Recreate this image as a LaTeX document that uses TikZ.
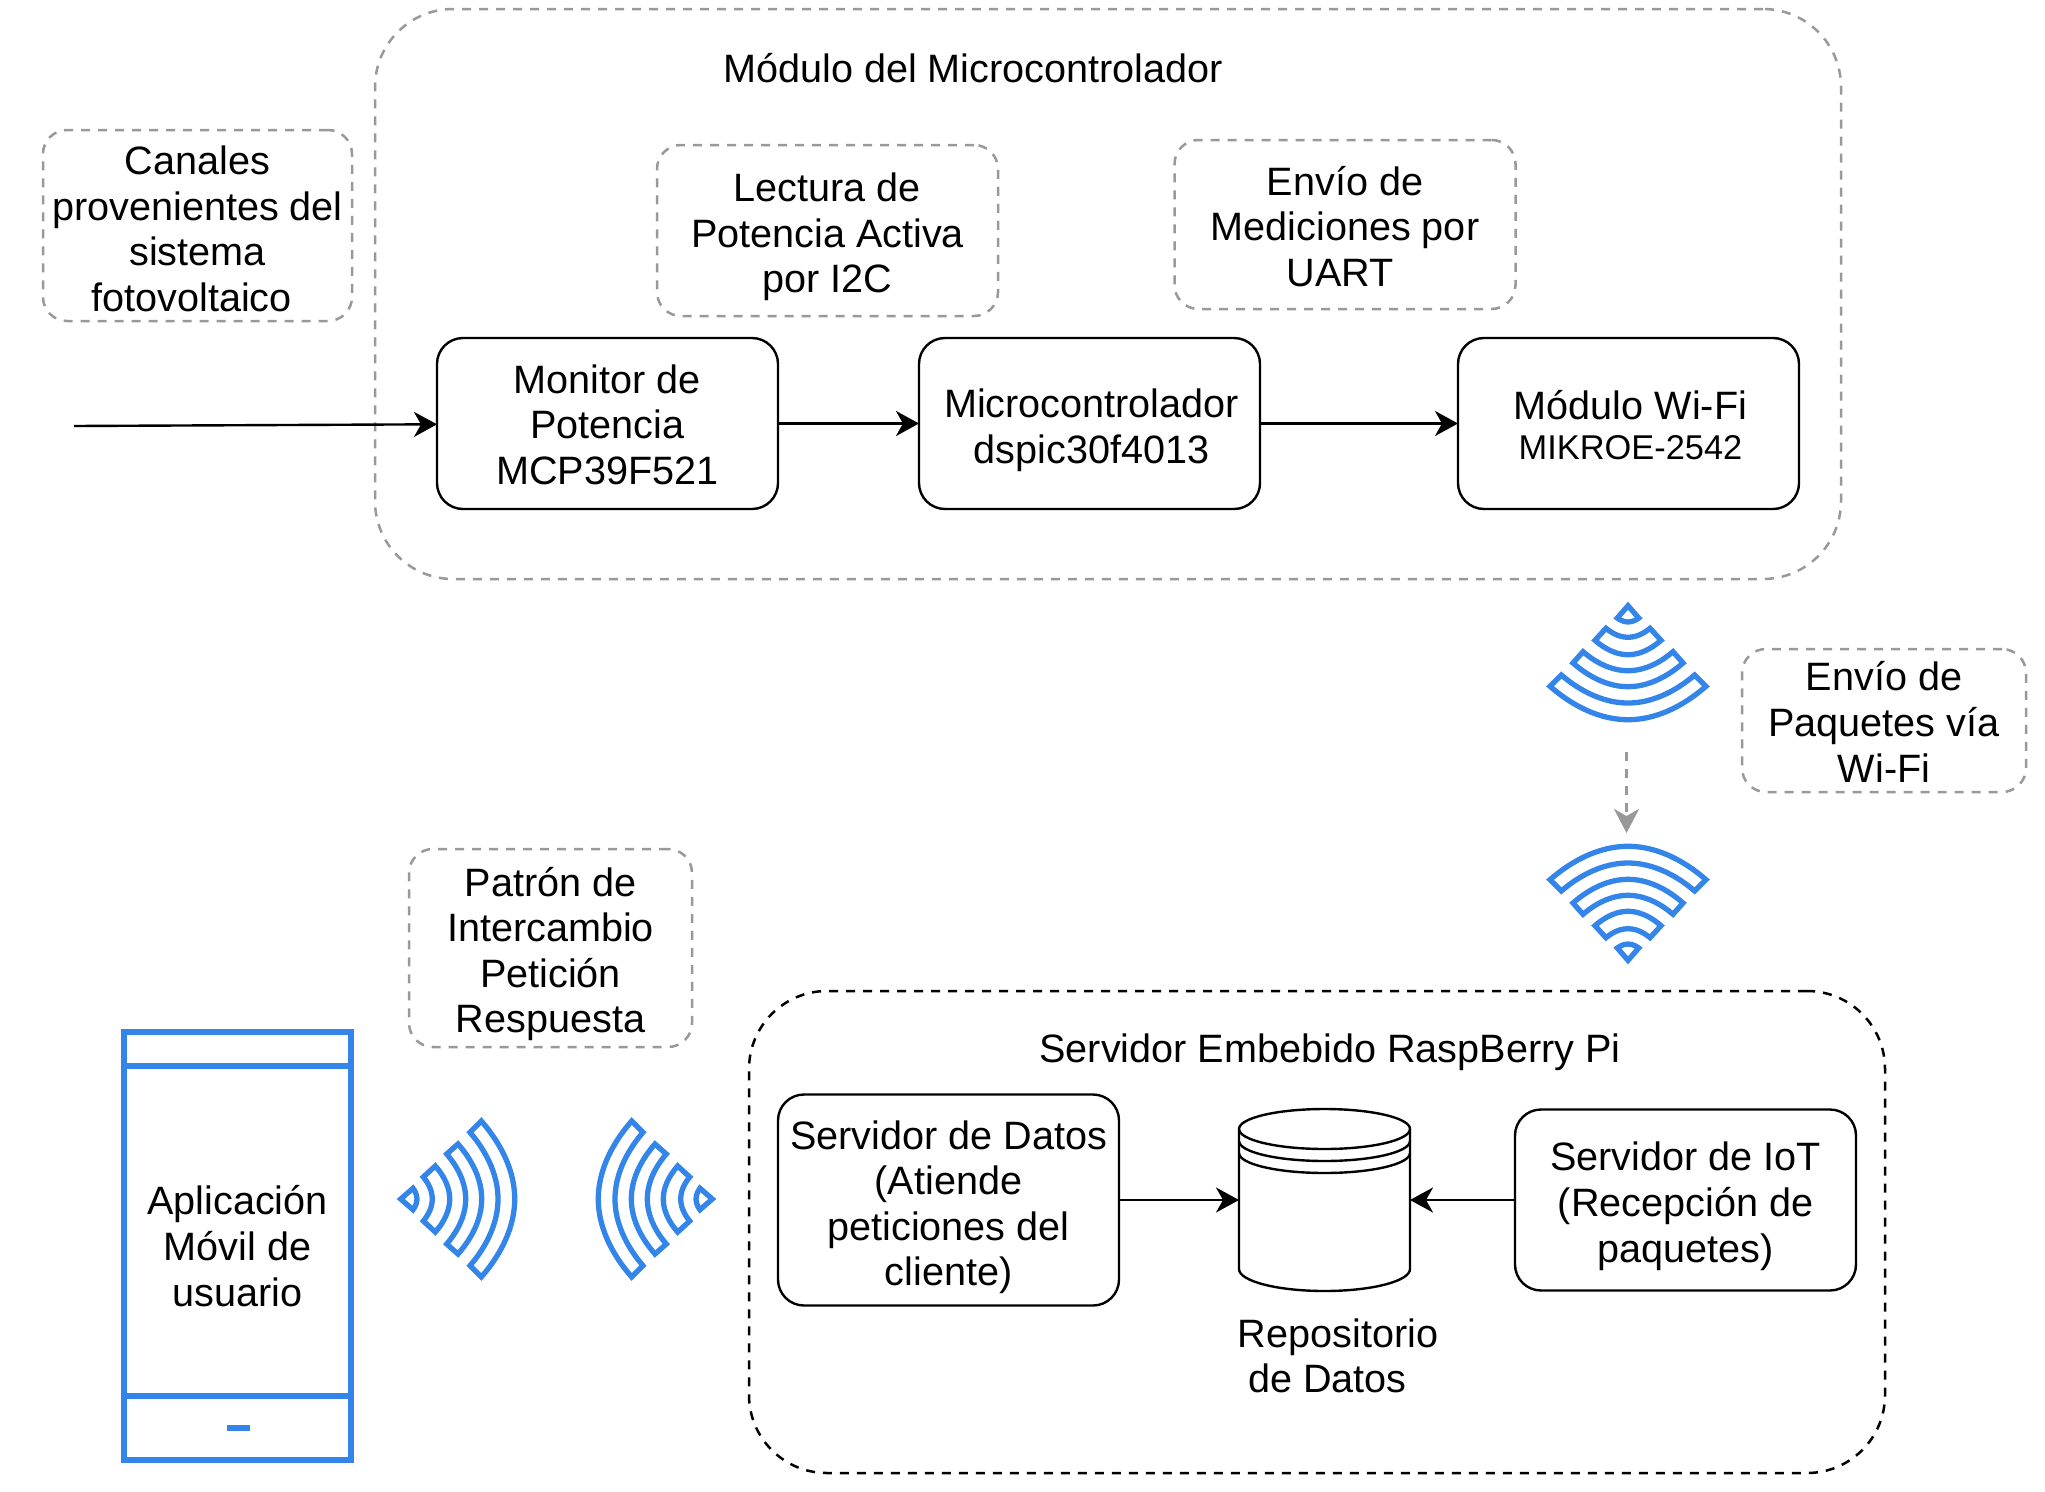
\documentclass[tikz,border=0pt]{standalone}
\usepackage{fontspec}
\setmainfont{Liberation Sans}
\usetikzlibrary{positioning,arrows.meta}
\definecolor{wifiblue}{HTML}{3385EA}
\definecolor{notegray}{HTML}{999999}
\newcommand{\topline}[1]{\rule{0pt}{#1pt}}

\begin{document}
\begin{tikzpicture}[x=1pt,y=-1pt,outer sep=0pt,
  font=\fontsize{39.6}{45.6}\selectfont,
  main node/.style={draw,line width=2.4pt,rounded corners=26pt,align=center,minimum width=341pt,minimum height=171pt},
  note node/.style={draw=notegray,line width=2.5pt,dash pattern=on 9pt off 8pt,rounded corners=24pt,align=center},
  area node/.style={line width=2.5pt,dash pattern=on 9pt off 8pt,rounded corners=78pt},
  text node/.style={align=center,inner sep=0pt},
  flow/.style={line width=2.4pt,-{Stealth[length=23pt,width=25pt,inset=7pt]}},
  wifi fan/.pic={
    \draw[wifiblue,line width=5.3pt] (0,3.7) -- (-10.7,16) parabola bend (0,20) (10.7,16) -- cycle;
    \foreach \wi/\ci/\bi/\wo/\co/\bo in {22/26.3/35.3/33/38.3/52.7,45/49.7/68.7/55/61/84.7,66.7/73/101/78/84.3/117.7}
      \draw[wifiblue,line width=5.3pt] (-\wi,\ci) parabola bend (0,\bi) (\wi,\ci) -- (\wo,\co) parabola bend (0,\bo) (-\wo,\co) -- cycle;
  }]
\useasboundingbox (0,0) rectangle (2045,1491);

% modulo superior
\node[area node,draw=notegray,minimum width=1466pt,minimum height=570pt] (modulo) at (1108,294) {};
\node[text node] (modulotxt) at (973,68) {Módulo del Microcontrolador};
\node[main node] (monitor) at (607.5,423.5) {\topline{31}Monitor de\\Potencia\\MCP39F521};
\node[main node] (micro) [right=141pt of monitor] {\topline{42}\hspace*{4pt}Microcontrolador\\\hspace*{4pt}dspic30f4013};
\node[main node] (wifi) [right=198pt of micro] {\topline{32}\hspace*{4pt}Módulo Wi-Fi\\[-5pt]\hspace*{4pt}{\fontsize{34.4}{40}\selectfont MIKROE-2542}};
\node[note node,minimum width=309pt,minimum height=191pt] (canales) at (197.5,225.5) {\topline{35}Canales\\provenientes del\\sistema\\fotovoltaico\hspace*{12pt}};
\node[note node,minimum width=341pt,minimum height=171pt] (lectura) at (827.5,230.5) {\topline{42}Lectura de\\Potencia Activa\\por I2C};
\node[note node,minimum width=341pt,minimum height=169pt] (envio) at (1345,224.5) {\topline{33}Envío de\\Mediciones por\\UART\hspace*{10pt}};
\coordinate (entrada) at (74,426);

% enlace wi-fi
\pic (wifitx) at (1628,602) {wifi fan};
\pic (wifirx) [rotate=180] at (1628,964) {wifi fan};
\coordinate (wifiA) at (1626.5,752);
\coordinate (wifiB) at (1626.5,833);
\node[note node,minimum width=284pt,minimum height=143pt] (paquetes) at (1884,720.5) {\topline{32}Envío de\\Paquetes vía\\Wi-Fi};

% servidor
\node[area node,draw=black,minimum width=1136pt,minimum height=482pt] (servidor) at (1317,1232) {};
\node[text node] (servidortxt) at (1330,1052.5) {Servidor Embebido RaspBerry Pi};
\node[main node,minimum height=211pt] (datos) at (948.5,1200) {\topline{43}Servidor de Datos\\(Atiende\\peticiones del\\cliente)};
\node[minimum width=171pt,minimum height=182pt] (repo) [right=120pt of datos] {};
\node[main node,minimum height=181pt] (iot) [right=105pt of repo] {\topline{41}Servidor de IoT\\(Recepción de\\paquetes)};
\node[text node] (repotxt) at (1336.5,1356) {\hspace*{3pt}Repositorio\\de Datos\hspace*{18pt}};
\draw[line width=2.4pt] ([yshift=-20pt]repo.north west) arc (180:0:85.5pt and 20pt) -- ([yshift=22pt]repo.south east) arc (0:-180:85.5pt and 22pt) -- cycle;
\foreach \k in {0,12,24}
  \draw[line width=2.4pt] ([yshift=-20pt-\k pt]repo.north west) arc (180:360:85.5pt and 20pt);

% aplicacion movil
\node[draw=wifiblue,line width=5.3pt,minimum width=227pt,minimum height=428pt,align=center] (movil) at (237.5,1246) {Aplicación\\Móvil de\\usuario};
\coordinate (bandaA) at (124,1066);
\coordinate (bandaB) at (124,1396);
\draw[wifiblue,line width=5.3pt] (bandaA) -- +(227,0) (bandaB) -- +(227,0);
\node[fill=wifiblue,minimum width=23pt,minimum height=6pt,inner sep=0pt] (boton) at (238,1428) {};
\node[note node,minimum width=283pt,minimum height=198pt] (patron) at (550.5,948) {\topline{41}Patrón de\\Intercambio\\Petición\\Respuesta};
\pic (fanmovil) [rotate=90] at (397,1199) {wifi fan};
\pic (fanserv) [rotate=-90] at (716,1199) {wifi fan};

\path[flow]
(entrada) edge (monitor)
(monitor) edge (micro)
(micro) edge (wifi)
(datos) edge (repo)
(iot) edge (repo)
;
\draw[notegray,line width=2.5pt,dash pattern=on 9pt off 8pt,-{Stealth[length=24pt,width=25pt,inset=7pt]}] (wifiA) -- (wifiB);
\end{tikzpicture}
\end{document}
